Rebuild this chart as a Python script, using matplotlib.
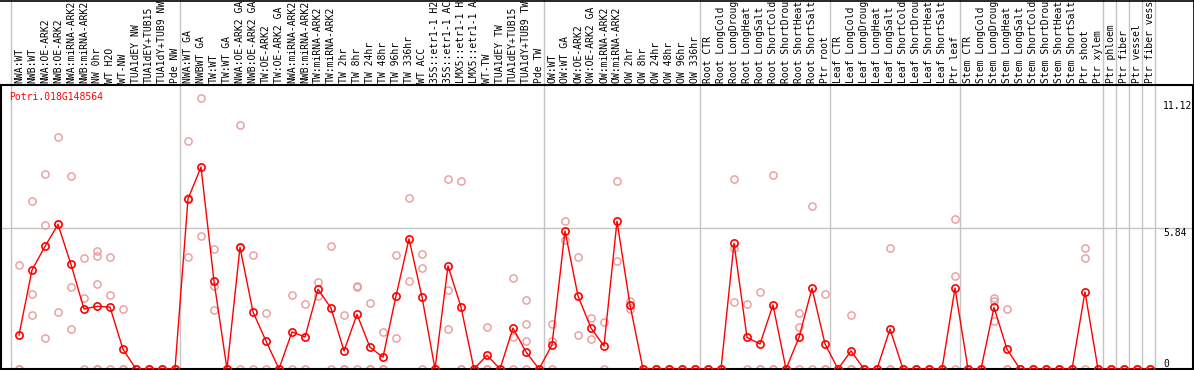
import matplotlib
matplotlib.use("Agg")
import matplotlib.pyplot as plt
from matplotlib.lines import Line2D
import matplotlib.transforms as mtransforms

# ---------------- data ----------------
# labels as displayed (truncated to 14 characters in the reference)
samples = [
    "NWA:WT", "NWB:WT", "NWA:OE-ARK2", "NWB:OE-ARK2", "NWA:miRNA-ARK2", "NWB:miRNA-ARK2",
    "NW 0hr", "WT H2O", "WT-NW", "TUA1dEY NW", "TUA1dEY+TUB15", "TUA1dY+TUB9 NW", "Pde NW",
    "NWA:WT GA", "NWBWT GA", "TW:WT", "TW:WT GA", "NWA:OE-ARK2 GA", "NWB:OE-ARK2 GA",
    "TW:OE-ARK2", "TW:OE-ARK2 GA", "NWA:miRNA-ARK2", "NWB:miRNA-ARK2", "TW:miRNA-ARK2",
    "TW:miRNA-ARK2", "TW 2hr", "TW 8hr", "TW 24hr", "TW 48hr", "TW 96hr", "TW 336hr",
    "WT ACC", "35S::etr1-1 H2", "35S::etr1-1 AC", "LMX5::etr1-1 H", "LMX5::etr1-1 A",
    "WT-TW", "TUA1dEY TW", "TUA1dEY+TUB15", "TUA1dY+TUB9 TW", "Pde TW",
    "OW:WT", "OW:WT GA", "OW:OE-ARK2", "OW:OE-ARK2 GA", "OW:miRNA-ARK2", "OW:miRNA-ARK2",
    "OW 2hr", "OW 8hr", "OW 24hr", "OW 48hr", "OW 96hr", "OW 336hr",
    "Root CTR", "Root LongCold", "Root LongDroug", "Root LongHeat", "Root LongSalt",
    "Root ShortCold", "Root ShortDrou", "Root ShortHeat", "Root ShortSalt", "Ptr root",
    "Leaf CTR", "Leaf LongCold", "Leaf LongDroug", "Leaf LongHeat", "Leaf LongSalt",
    "Leaf ShortCold", "Leaf ShortDrou", "Leaf ShortHeat", "Leaf ShortSalt", "Ptr leaf",
    "Stem CTR", "Stem LongCold", "Stem LongDroug", "Stem LongHeat", "Stem LongSalt",
    "Stem ShortCold", "Stem ShortDrou", "Stem ShortHeat", "Stem ShortSalt", "Ptr shoot",
    "Ptr xylem", "Ptr phloem", "Ptr fiber", "Ptr vessel", "Ptr fiber vess",
]

means = [
    1.41, 4.11, 5.09, 6.00, 4.34, 2.49, 2.60, 2.57, 0.82, 0, 0, 0, 0,
    7.06, 8.38, 3.64, 0, 5.05, 2.37, 1.16, 0, 1.54, 1.33, 3.31, 2.53, 0.75, 2.27,
    0.90, 0.49, 3.03, 5.40, 2.99, 0, 4.28, 2.57, 0, 0.57, 0, 1.70, 0.71, 0,
    1.00, 5.73, 3.03, 1.70, 0.95, 6.14, 2.66, 0, 0, 0, 0, 0,
    0, 0, 5.22, 1.31, 1.04, 2.66, 0, 1.31, 3.35, 1.04,
    0, 0.75, 0, 0, 1.66, 0, 0, 0, 0, 3.36,
    0, 0, 2.56, 0.82, 0, 0, 0, 0, 0, 3.20,
    0, 0, 0, 0, 0,
]

replicates = [
    [4.30, 0, 0], [6.96, 3.10, 2.23], [8.09, 5.96, 1.27], [9.63, 6.02, 2.35],
    [8.01, 3.39, 1.65], [4.61, 2.93, 0], [4.91, 4.69, 3.51, 0, 0], [4.64, 3.07, 0],
    [2.49, 0, 0], [0, 0], [0, 0], [0, 0], [0, 0],
    [9.45, 7.09, 4.64], [11.24, 5.52], [4.98, 3.43, 2.45], [0, 0], [10.12, 5.03, 0],
    [4.72, 0], [2.31, 0], [0, 0], [3.07, 0], [2.70, 0], [3.61, 3.04], [5.09, 0],
    [2.23, 0, 0], [3.44, 3.40, 0], [2.73, 0, 0], [1.54, 0, 0], [4.72, 1.27],
    [7.10, 3.65], [4.76, 4.18, 0], [0, 0], [7.89, 3.28, 1.65], [7.79, 0, 0], [0, 0],
    [1.74, 0, 0], [0, 0], [3.78, 1.34, 0], [2.86, 1.87, 1.16, 0], [0, 0],
    [1.87, 1.16, 0], [6.14, 5.35], [4.64, 1.41], [2.12, 1.25], [1.95, 0],
    [7.79, 4.48], [2.84, 2.49], [0, 0], [0, 0], [0, 0], [0, 0], [0, 0],
    [0, 0], [0, 0], [7.87, 5.04, 2.77], [2.70, 0], [3.18, 0, 0], [8.04, 0, 0], [0, 0],
    [2.31, 1.73, 0], [6.75, 0], [3.10, 0, 0],
    [0, 0], [2.24, 0, 0], [0, 0], [0, 0], [5.02, 0, 0], [0, 0], [0, 0], [0, 0], [0, 0],
    [6.21, 3.85, 0],
    [0, 0], [0, 0], [2.93, 2.82, 1.98], [2.48, 0, 0], [0, 0], [0, 0], [0, 0], [0, 0],
    [0, 0], [5.01, 4.59, 0],
    [0, 0], [0, 0], [0, 0], [0, 0], [0, 0],
]

separators_after = [-1, 12, 40, 52, 62, 72, 83, 84, 85, 86, 87]
ytick_values = [0, 5.84, 11.12]
ytick_labels = ["0", "5.84", "11.12"]
title = "Potri.018G148564"

# ---------------- layout ----------------
W, H = 1194, 370
fig = plt.figure(figsize=(W / 100, H / 100), dpi=100)
left_px, right_px, top_px, bot_px = 1, 1193, 85, 369
ax = fig.add_axes([left_px / W, (H - bot_px) / H, (right_px - left_px) / W, (bot_px - top_px) / H])

x0_px, step_px = 19, 13
ax.set_xlim((left_px - x0_px) / step_px, (right_px - x0_px) / step_px)
px_per_unit = (369 - 228.3) / 5.84
ax.set_ylim(0, (bot_px - top_px) / px_per_unit)
ax.set_xticks([])
ax.set_yticks([])
for s in ax.spines.values():
    s.set_color("black")
    s.set_linewidth(1.5)

font = "DejaVu Sans Mono"
fs = 7.0
grid_c = "#c4c4c4"

# separators
ext = (bot_px - 0) / (bot_px - top_px)
for s in separators_after:
    ax.axvline(s + 5 / 13, ymin=0, ymax=ext, color=grid_c, lw=1, clip_on=False, zorder=1)
ax.axhline(ytick_values[1], color=grid_c, lw=1, zorder=1)

xs = list(range(len(samples)))
# replicates
rx, ry = [], []
for i, reps in enumerate(replicates):
    for v in reps:
        rx.append(i)
        ry.append(v)
ax.plot(rx, ry, ls="none", marker="o", ms=5.2, mfc="none", mec="#e99a9a", mew=1.0, zorder=2)
# means
ax.plot(xs, means, color="#ff0000", lw=1.0, marker="o", ms=5.2, mfc="none",
        mec="#ff0000", mew=1.2, zorder=3)

# sample labels
trans = mtransforms.blended_transform_factory(ax.transData, fig.transFigure)
for i, lab in enumerate(samples):
    fig.text(i, (H - 83) / H, lab, transform=trans, rotation=90, ha="center", va="bottom",
             fontsize=fs, family=font, color="black")

# title
fig.text(9 / W, 1 - 97 / H, title, color="#ff0000", fontsize=fs, family=font, ha="left", va="center")

# right-side value labels
tx = (1163 - x0_px) / step_px
for v, lab in zip(ytick_values, ytick_labels):
    ax.text(tx, v, lab, ha="left", va="bottom" if v == 0 else "top", fontsize=fs,
            family=font, color="black", zorder=4)

# figure frame lines (top / right)
fig.add_artist(Line2D([0, 1], [1 - 0.5 / H, 1 - 0.5 / H], transform=fig.transFigure, color="black", lw=1.2))
fig.add_artist(Line2D([1 - 0.5 / W, 1 - 0.5 / W], [0, 1], transform=fig.transFigure, color="black", lw=1.2))

fig.savefig("out.png", dpi=100)
